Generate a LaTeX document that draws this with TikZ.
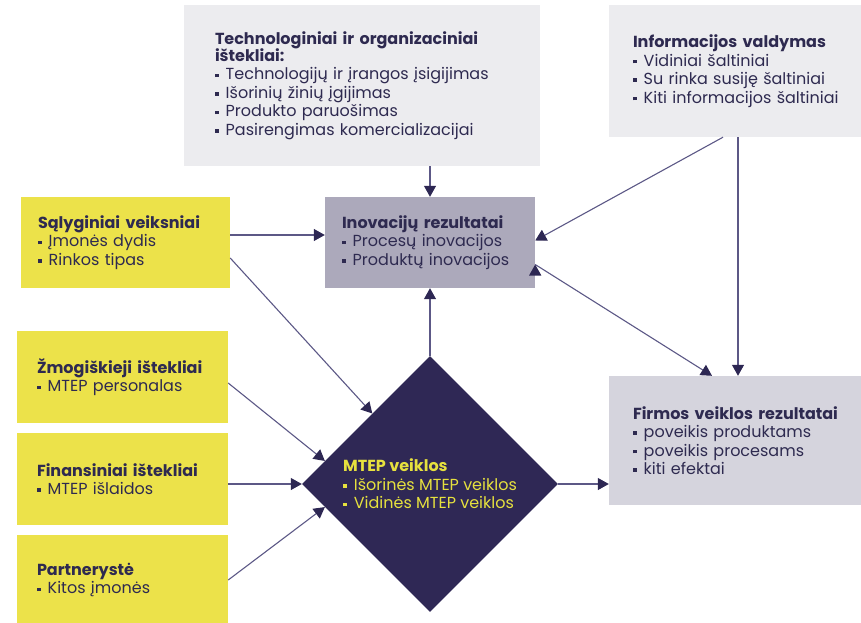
\documentclass[tikz,border=0pt]{standalone}
\usepackage{fontspec}
\setmainfont{Poppins}
\usetikzlibrary{shapes.geometric, arrows.meta, calc}
\definecolor{ink}{HTML}{2E2A50}
\definecolor{linec}{HTML}{5C5886}
\definecolor{headc}{HTML}{2D2753}
\definecolor{yel}{HTML}{ECE24A}
\definecolor{paleg}{HTML}{ECECEF}
\definecolor{midg}{HTML}{ACA9BB}
\definecolor{liteg}{HTML}{D5D4DD}
\definecolor{dia}{HTML}{2F2855}
\definecolor{diatext}{HTML}{E6E13E}
\newcommand{\bul}{\raisebox{0.3ex}{\rule{0.22em}{0.22em}}\hspace{0.45em}}

\begin{document}
\begin{tikzpicture}[x=1pt,y=-1pt,font=\fontsize{16}{18.5}\selectfont,
  box/.style={rectangle, text=ink, align=left, inner ysep=0pt},
  src/.style={box, fill=paleg},
  cond/.style={box, fill=yel},
  link/.style={draw=linec, line width=1.1pt, -{Triangle[length=11pt,width=12pt,color=headc]}}]
        \useasboundingbox (0,0) rectangle (861,623);
        \node[src, minimum width=356, minimum height=161, text width=294, inner xsep=31] (tech) at (362,85.5)
          {\textbf{Technologiniai ir organizaciniai}\\[-1.5pt]\textbf{ištekliai:}\\\bul Technologijų ir įrangos įsigijimas\\\bul Išorinių žinių įgijimas\\\bul Produkto paruošimas\\\bul Pasirengimas komercializacijai};
        \node[src, minimum width=272, minimum height=132, text width=224, inner xsep=24] (info) at (745,71)
          {\textbf{Informacijos valdymas}\\\bul Vidiniai šaltiniai\\\bul Su rinka susiję šaltiniai\\\bul Kiti informacijos šaltiniai};
        \node[box, fill=midg, minimum width=210, minimum height=91, text width=176, inner xsep=17] (inov) at (430,242.5)
          {\textbf{Inovacijų rezultatai}\\\bul Procesų inovacijos\\\bul Produktų inovacijos};
        \node[cond, minimum width=209, minimum height=91, text width=175, inner xsep=17] (sal) at (125.5,242.5)
          {\textbf{Sąlyginiai veiksniai}\\\bul Įmonės dydis\\\bul Rinkos tipas};
        \node[cond, minimum width=211, minimum height=92, text width=171, inner xsep=20] (zmo) at (122.5,377)
          {\textbf{Žmogiškieji ištekliai}\\\bul MTEP personalas};
        \node[cond, minimum width=211, minimum height=92, text width=171, inner xsep=20] (fin) at (122.5,479)
          {\textbf{Finansiniai ištekliai}\\\bul MTEP išlaidos};
        \node[cond, minimum width=211, minimum height=90, text width=171, inner xsep=20] (par) at (122.5,580)
          {\textbf{Partnerystė}\\\bul Kitos įmonės};
        \node[box, fill=liteg, minimum width=272, minimum height=129, text width=224, inner xsep=24] (firm) at (745,440.5)
          {\textbf{Firmos veiklos rezultatai}\\\bul poveikis produktams\\\bul poveikis procesams\\\bul kiti efektai};
        \node[diamond, fill=dia, text=diatext, align=left, aspect=1, inner sep=0pt, minimum width=256, minimum height=256] (mtep) at (430,484)
          {\textbf{MTEP veiklos}\\\bul Išorinės MTEP veiklos\\\bul Vidinės MTEP veiklos};
        \path[link]
        (tech.south -| inov.north) edge (inov.north)
        ([yshift=7.5]sal.east) edge ([yshift=7.5]inov.west)
        ([yshift=-15.5]sal.east) edge ($(mtep.west)!0.55!(mtep.north)$)
        ([yshift=-6]zmo.east) edge ($(mtep.west)!0.18!(mtep.north)$)
        (fin.east |- mtep.west) edge (mtep.west)
        (par.east) edge ($(mtep.west)!0.18!(mtep.south)$)
        (mtep.north) edge (inov.south)
        (mtep.east) edge (mtep.east -| firm.west)
        ([xshift=-22]info.south) edge ([yshift=2]inov.east)
        ([xshift=-7]info.south) edge ([xshift=-7]firm.north)
        ([yshift=-22]inov.east) edge ([xshift=-33]firm.north);
      \end{tikzpicture}
\end{document}
